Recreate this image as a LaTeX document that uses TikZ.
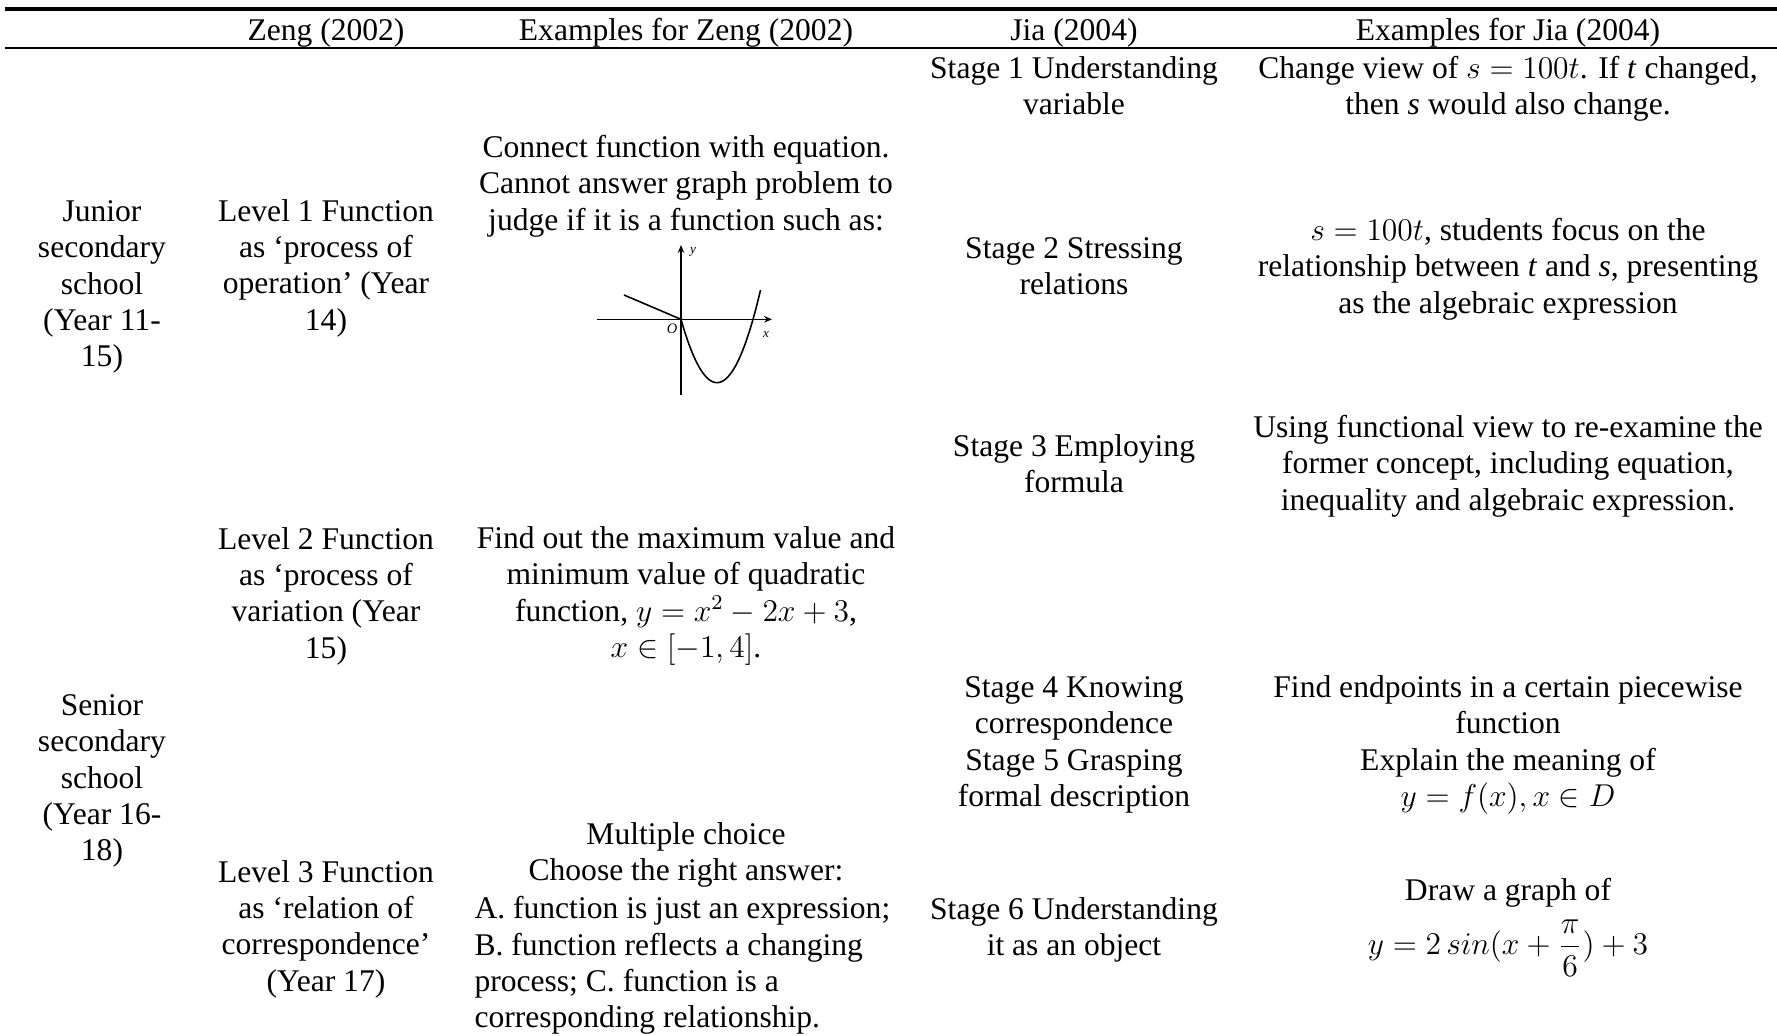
\documentclass[tikz,border=0pt]{standalone}
\usepackage{amsmath}
\usepackage{fontspec}
\setmainfont{Liberation Serif}
\usetikzlibrary{arrows.meta}
\begin{document}
\begin{tikzpicture}[x=0.38pt,y=-0.38pt,
  cell/.style={align=center,inner sep=0pt,font=\fontsize{12}{13.8}\selectfont},
  lcell/.style={align=left,inner sep=0pt,font=\fontsize{12}{13.8}\selectfont},
  rulethick/.style={line width=1.4pt},
  rulethin/.style={line width=0.8pt},
  ax/.style={line width=0.5pt,-{Stealth[length=3pt,width=2.5pt]}}]
\useasboundingbox (0,0) rectangle (1777,1035);
% rules
\coordinate (t1) at (5,9);
\coordinate (t2) at (1777,9);
\coordinate (h1) at (5,48);
\coordinate (h2) at (1777,48);
\draw[rulethick] (t1) -- (t2);
\draw[rulethin] (h1) -- (h2);
% header
\node[cell] (hz) at (326,33) {Zeng (2002)};
\node[cell] (hez) at (686,33) {Examples for Zeng (2002)};
\node[cell] (hj) at (1074,33) {Jia (2004)};
\node[cell] (hej) at (1508,33) {Examples for Jia (2004)};
% column 1
\node[cell] (jun) at (102,287) {Junior\\secondary\\school\\(Year 11-\\15)};
\node[cell] (sen) at (102,781) {Senior\\secondary\\school\\(Year 16-\\18)};
% column 2
\node[cell] (l1) at (326,268) {Level 1 Function\\as ‘process of\\operation’ (Year\\14)};
\node[cell] (l2) at (326,596) {Level 2 Function\\as ‘process of\\variation (Year\\15)};
\node[cell] (l3) at (326,929) {Level 3 Function\\as ‘relation of\\correspondence’\\(Year 17)};
% column 3
\node[cell] (e1) at (686,186) {Connect function with equation.\\Cannot answer graph problem to\\judge if it is a function such as:};
\node[cell] (e2) at (686,596) {Find out the maximum value and\\minimum value of quadratic\\function, $y=x^2-2x+3$,\\$x\in[-1,4]$.};
\node[cell,anchor=north] (e3a) at (686,822) {Multiple choice\\Choose the right answer:};
\node[lcell,anchor=north west] (e3b) at (474,896) {A. function is just an expression;\\B. function reflects a changing\\process; C. function is a\\corresponding relationship.};
% graph
\coordinate (yb) at (681,395);
\coordinate (yt) at (681,245);
\coordinate (xl) at (597,319.3);
\coordinate (xr) at (772,319.3);
\coordinate (o) at (681,319.3);
\coordinate (lft) at (624,295);
\draw[ax] (yb) -- (yt);
\draw[ax] (xl) -- (xr);
\draw[line width=0.6pt] (lft) -- (o);
\draw[line width=0.6pt] plot[domain=0:79.5,samples=40,smooth] ({681+\x},{319.3-0.0489*\x*(\x-72)});
\node[inner sep=0pt,font=\fontsize{5}{6}\selectfont\itshape] (ly) at (693,252) {y};
\node[inner sep=0pt,font=\fontsize{5.5}{6}\selectfont\itshape] (lo) at (672,329) {O};
\node[inner sep=0pt,font=\fontsize{5}{6}\selectfont\itshape] (lx) at (766,334) {x};
% column 4
\node[cell] (s1) at (1074,86) {Stage 1 Understanding\\variable};
\node[cell] (s2) at (1074,266) {Stage 2 Stressing\\relations};
\node[cell] (s3) at (1074,464) {Stage 3 Employing\\formula};
\node[cell] (s45) at (1074,745) {Stage 4 Knowing\\correspondence\\Stage 5 Grasping\\formal description};
\node[cell] (s6) at (1074,930) {Stage 6 Understanding\\it as an object};
% column 5
\node[cell] (j1) at (1508,89) {Change view of $s=100t$. If \textit{t} changed,\\then \textit{s} would also change.};
\node[cell] (j2) at (1508,269) {$s=100t$, students focus on the\\relationship between \textit{t} and \textit{s}, presenting\\as the algebraic expression};
\node[cell] (j3) at (1508,466) {Using functional view to re-examine the\\former concept, including equation,\\inequality and algebraic expression.};
\node[cell] (j45) at (1508,745) {Find endpoints in a certain piecewise\\function\\Explain the meaning of\\$y=f(x),x\in D$};
\node[cell] (j6a) at (1508,893) {Draw a graph of};
\node[cell] (j6b) at (1508,948) {$y=2\,sin(x+\dfrac{\pi}{6})+3$};
\end{tikzpicture}
\end{document}
